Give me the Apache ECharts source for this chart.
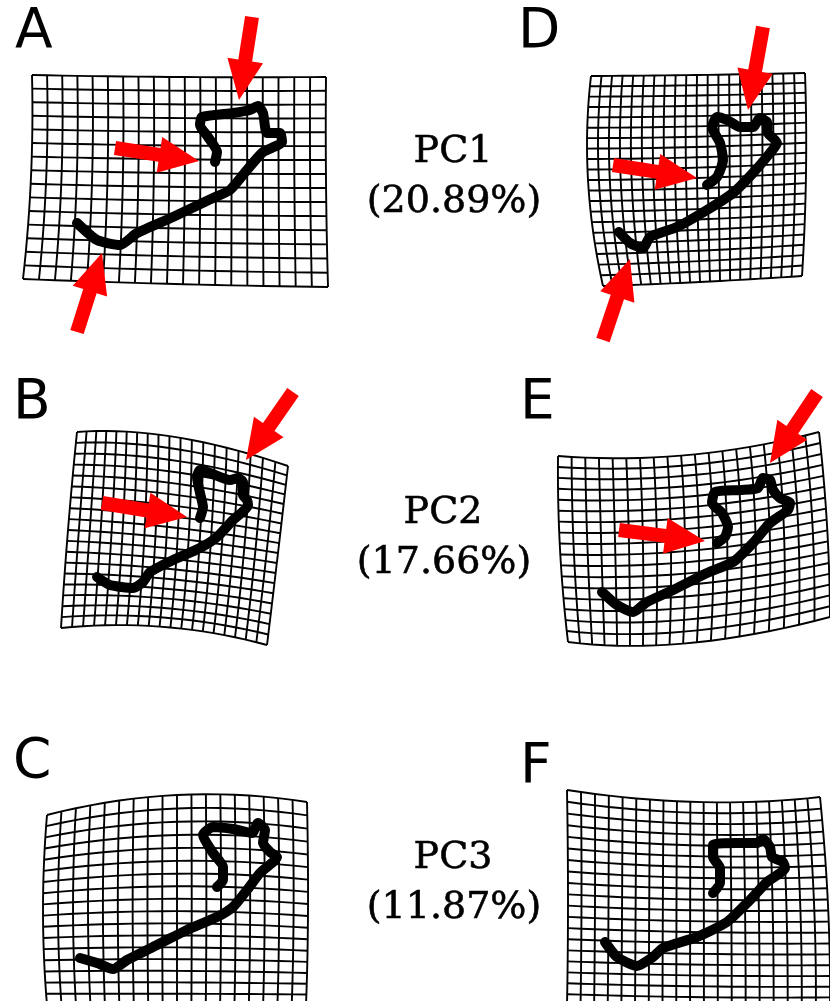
<!DOCTYPE html>
<html>
<head>
<meta charset="utf-8">
<script src="https://cdn.jsdelivr.net/npm/echarts@6/dist/echarts.min.js"></script>
<style>
  html, body { margin: 0; padding: 0; background: #fff; }
  #chart { width: 830px; height: 1001px; }
</style>
</head>
<body>
<div id="chart"></div>
<script>
// panel letters and PC captions
const panelLetters = ['A', 'B', 'C', 'D', 'E', 'F'];
const pcNames = ['PC1', 'PC2', 'PC3'];
const pcShares = ['(20.89%)', '(17.66%)', '(11.87%)'];

// deformed grids: 3x3 control net (corners, edge mids, centre) in page units, and [cols, rows]
const netA = [[[32,75],[177,77],[326,77]], [[31,177],[177,180],[326,181]], [[23,279],[175,284],[328,287]]];
const netB = [[[77,432],[175,437],[288,466]], [[68,530],[172,538],[278,553]], [[61,628],[165,627],[267,645]]];
const netC = [[[47,815],[177,795],[307,802]], [[43,910],[177,905],[308,910]], [[47,1005],[177,1005],[306,1005]]];
const netD = [[[591,76],[697,75],[805,73]], [[588,180],[697,178],[806,173]], [[603,286],[700,282],[802,276]]];
const netE = [[[558,456],[688,455],[819,432]], [[560,549],[692,545],[827,525]], [[568,642],[690,643],[830,617]]];
const netF = [[[567,790],[697,802],[820,797]], [[568,900],[697,905],[828,905]], [[567,1005],[697,1008],[830,1008]]];
const sizeA = [19, 15], sizeB = [19, 18], sizeC = [18, 17];
const sizeD = [20, 20], sizeE = [19, 17], sizeF = [19, 19];

// outlines (black curves)
const outlineA = [[77,223],[97,240],[120,245],[137,233],[173,217],[213,198],[230,190],[247,170],[263,152],[282,142],[280,133],[267,133],[263,113],[258,106],[250,110],[233,113],[202,117],[200,125],[208,137],[217,152],[215,162]];
const outlineB = [[97,577],[110,585],[133,588],[143,582],[150,572],[173,560],[200,548],[217,537],[233,520],[248,505],[247,500],[243,495],[243,482],[238,478],[230,480],[210,473],[200,470],[197,477],[200,493],[203,507],[200,518]];
const outlineC = [[80,958],[97,963],[113,969],[127,960],[153,947],[187,930],[217,917],[233,907],[247,890],[260,873],[277,857],[270,852],[263,843],[265,830],[258,823],[252,833],[233,829],[213,827],[203,835],[213,853],[223,867],[223,880],[217,887]];
const outlineD = [[619,232],[630,243],[643,248],[650,237],[677,227],[707,210],[733,193],[753,173],[770,153],[777,143],[768,133],[767,122],[760,118],[753,127],[740,127],[727,120],[717,117],[712,127],[720,143],[723,160],[717,177],[707,185]];
const outlineE = [[602,592],[617,605],[633,612],[647,602],[673,590],[707,573],[733,562],[753,543],[770,523],[788,510],[790,503],[780,498],[773,490],[770,480],[763,478],[758,488],[740,490],[715,492],[712,503],[722,513],[728,527],[725,537],[717,543]];
const outlineF = [[605,942],[617,957],[637,966],[653,957],[663,948],[697,937],[727,922],[750,900],[767,882],[785,868],[783,862],[772,857],[770,847],[763,839],[757,843],[737,843],[713,845],[713,857],[720,868],[720,883],[713,893]];

// red arrows: [tailX, tailY, tipX, tipY]
const arrowsA = [[252,17,239,100], [115,148,199,161], [77,332,102,253]];
const arrowsB = [[293,392,246,460], [102,503,187,517]];
const arrowsD = [[763,27,748,110], [613,165,697,178], [603,340,630,259]];
const arrowsE = [[817,393,770,463], [619,530,705,541]];

const nets = [[netA, sizeA], [netB, sizeB], [netC, sizeC], [netD, sizeD], [netE, sizeE], [netF, sizeF]];
const outlines = [outlineA, outlineB, outlineC, outlineD, outlineE, outlineF];
const arrows = [].concat(arrowsA, arrowsB, arrowsD, arrowsE);

// map (u,v) in [0,1] through a control net
function netPoint(net, u, v) {
  const L = t => [2 * (t - 0.5) * (t - 1), -4 * t * (t - 1), 2 * t * (t - 0.5)];
  const lu = L(u), lv = L(v);
  let x = 0, y = 0;
  for (let j = 0; j < 3; j++) {
    for (let i = 0; i < 3; i++) {
      x += lv[j] * lu[i] * net[j][i][0];
      y += lv[j] * lu[i] * net[j][i][1];
    }
  }
  return [x, y];
}

const gridLines = [];
nets.forEach(([net, size]) => {
  const cols = size[0], rows = size[1];
  for (let r = 0; r <= rows; r++) {
    const pts = [];
    for (let c = 0; c <= cols; c++) pts.push(netPoint(net, c / cols, r / rows));
    gridLines.push(pts);
  }
  for (let c = 0; c <= cols; c++) {
    const pts = [];
    for (let r = 0; r <= rows; r++) pts.push(netPoint(net, c / cols, r / rows));
    gridLines.push(pts);
  }
});

const myChart = echarts.init(document.getElementById('chart'));

const series = [{
  type: 'custom',
  data: gridLines.map((l, i) => [i]),
  clip: true,
  silent: true,
  z: 1,
  renderItem: (params, api) => ({
    type: 'polyline',
    shape: { points: gridLines[params.dataIndex].map(p => api.coord(p)) },
    style: { stroke: '#000', lineWidth: 1.9, fill: null }
  })
}];

outlines.forEach(o => {
  series.push({
    type: 'line',
    data: o,
    showSymbol: false,
    smooth: 0.2,
    silent: true,
    z: 3,
    lineStyle: { color: '#000', width: 10, cap: 'round', join: 'round' }
  });
});

series.push({
  type: 'custom',
  data: arrows,
  silent: true,
  z: 5,
  renderItem: (params, api) => {
    const a = api.coord([api.value(0), api.value(1)]);
    const b = api.coord([api.value(2), api.value(3)]);
    const dx = b[0] - a[0], dy = b[1] - a[1];
    const len = Math.sqrt(dx * dx + dy * dy);
    const ux = dx / len, uy = dy / len, nx = -uy, ny = ux;
    const headLen = 40, headHalf = 18, shaftHalf = 7;
    const bx = b[0] - ux * headLen, by = b[1] - uy * headLen;
    return {
      type: 'polygon',
      shape: { points: [
        [a[0] + nx * shaftHalf, a[1] + ny * shaftHalf],
        [bx + nx * shaftHalf, by + ny * shaftHalf],
        [bx + nx * headHalf, by + ny * headHalf],
        b,
        [bx - nx * headHalf, by - ny * headHalf],
        [bx - nx * shaftHalf, by - ny * shaftHalf],
        [a[0] - nx * shaftHalf, a[1] - ny * shaftHalf]
      ] },
      style: { fill: '#ff0000' }
    };
  }
});

// letters and captions
const letterPos = [[15, 33], [13, 404], [13, 763], [518, 33], [520, 404], [520, 768]];
const capPos = [[453, 152, 202], [443, 513, 563], [453, 858, 908]];
const graphics = [];
panelLetters.forEach((t, i) => {
  graphics.push({
    type: 'text', x: letterPos[i][0], y: letterPos[i][1],
    style: { text: t, font: '55px "DejaVu Sans"', fill: '#000', textVerticalAlign: 'middle' }
  });
});
pcNames.forEach((t, i) => {
  graphics.push({
    type: 'text', x: capPos[i][0], y: capPos[i][1],
    style: { text: t, font: '38px "DejaVu Serif"', fill: '#000', stroke: '#000', lineWidth: 0.6, textAlign: 'center', textVerticalAlign: 'middle' }
  });
  graphics.push({
    type: 'text', x: capPos[i][0] + 1, y: capPos[i][2],
    style: { text: pcShares[i], font: '38px "DejaVu Serif"', fill: '#000', stroke: '#000', lineWidth: 0.6, textAlign: 'center', textVerticalAlign: 'middle' }
  });
});

myChart.setOption({
  animation: false,
  backgroundColor: '#fff',
  grid: { left: 0, right: 0, top: 0, bottom: 0 },
  xAxis: { type: 'value', min: 0, max: 830, show: false },
  yAxis: { type: 'value', min: 0, max: 1001, inverse: true, show: false },
  graphic: graphics,
  series: series
});
window.addEventListener('resize', () => myChart.resize());
</script>
</body>
</html>
